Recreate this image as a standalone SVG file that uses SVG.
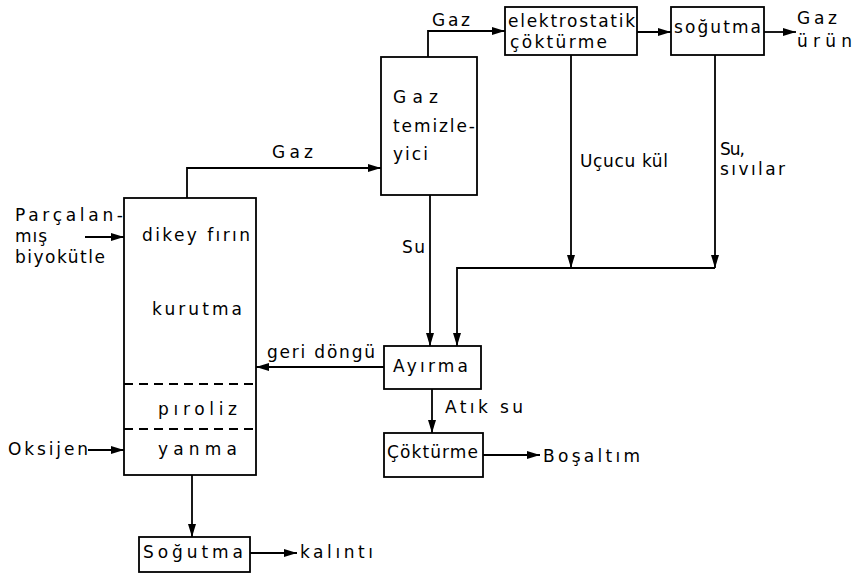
<svg xmlns="http://www.w3.org/2000/svg" width="856" height="575" viewBox="0 0 856 575">
  <defs>
    <marker id="arrow" viewBox="0 0 13 8" refX="13" refY="4" markerUnits="userSpaceOnUse" markerWidth="13" markerHeight="8" orient="auto">
      <path d="M0,0 L13,4 L0,8 Z" fill="#000"/>
    </marker>
  </defs>
  <style>
    .box { fill: none; stroke: #000; stroke-width: 1.8; }
    .dash { fill: none; stroke: #000; stroke-width: 1.8; stroke-dasharray: 9 6; }
    .line { fill: none; stroke: #000; stroke-width: 1.8; marker-end: url(#arrow); }
    text { font-family: "DejaVu Sans", "Liberation Sans", sans-serif; font-size: 17px; fill: #000; }
  </style>
  <rect width="856" height="575" fill="#fff"/>

  <!-- vertical furnace with its zones -->
  <g id="furnace">
    <rect class="box" x="124" y="198" width="132" height="277"/>
    <line class="dash" x1="124" y1="384" x2="256" y2="384"/>
    <line class="dash" x1="124" y1="429" x2="256" y2="429"/>
    <text x="142" y="241" textLength="108" lengthAdjust="spacing">dikey fırın</text>
    <text x="152" y="315" textLength="90" lengthAdjust="spacing">kurutma</text>
    <text x="158" y="415" textLength="79" lengthAdjust="spacing">pıroliz</text>
    <text x="158" y="455" textLength="79" lengthAdjust="spacing">yanma</text>
  </g>

  <g id="gas-cleaner">
    <rect class="box" x="381" y="57" width="96" height="138"/>
    <text x="393" y="103" textLength="45" lengthAdjust="spacing">Gaz</text>
    <text x="393" y="132" textLength="82" lengthAdjust="spacing">temizle-</text>
    <text x="393" y="160" textLength="35" lengthAdjust="spacing">yici</text>
  </g>

  <g id="electrostatic">
    <rect class="box" x="505" y="7" width="132" height="48"/>
    <text x="508" y="27" textLength="127" lengthAdjust="spacing">elektrostatik</text>
    <text x="510" y="48" textLength="97" lengthAdjust="spacing">çöktürme</text>
  </g>

  <g id="gas-cooling">
    <rect class="box" x="671" y="7" width="93" height="48"/>
    <text x="674" y="33" textLength="87" lengthAdjust="spacing">soğutma</text>
  </g>

  <g id="separation">
    <rect class="box" x="384" y="346" width="97" height="43"/>
    <text x="393" y="372" textLength="75" lengthAdjust="spacing">Ayırma</text>
  </g>

  <g id="settling">
    <rect class="box" x="384" y="433" width="99" height="44"/>
    <text x="387" y="458" textLength="91" lengthAdjust="spacing">Çöktürme</text>
  </g>

  <g id="residue-cooling">
    <rect class="box" x="139" y="537" width="111" height="35"/>
    <text x="143" y="558" textLength="100" lengthAdjust="spacing">Soğutma</text>
  </g>

  <!-- inputs and outputs -->
  <g id="labels">
    <text x="15" y="221" textLength="108" lengthAdjust="spacing">Parçalan-</text>
    <text x="15" y="242" textLength="32" lengthAdjust="spacing">mış</text>
    <text x="15" y="263" textLength="90" lengthAdjust="spacing">biyokütle</text>
    <text x="8" y="455" textLength="80" lengthAdjust="spacing">Oksijen</text>
    <text x="797" y="24" textLength="40" lengthAdjust="spacing">Gaz</text>
    <text x="797" y="47" textLength="55" lengthAdjust="spacing">ürün</text>
    <text x="543" y="462" textLength="97" lengthAdjust="spacing">Boşaltım</text>
    <text x="300" y="558" textLength="73" lengthAdjust="spacing">kalıntı</text>
  </g>

  <g id="connectors">
    <line class="line" x1="85" y1="237" x2="124" y2="237"/>
    <line class="line" x1="88" y1="450" x2="124" y2="450"/>
    <polyline class="line" points="187,198 187,168 381,168"/>
    <polyline class="line" points="428,57 428,31 505,31"/>
    <line class="line" x1="637" y1="32" x2="671" y2="32"/>
    <line class="line" x1="764" y1="32" x2="796" y2="32"/>
    <line class="line" x1="571" y1="55" x2="571" y2="268"/>
    <line class="line" x1="715" y1="55" x2="715" y2="268"/>
    <polyline class="line" points="715,268 457,268 457,346"/>
    <line class="line" x1="430" y1="195" x2="430" y2="346"/>
    <line class="line" x1="384" y1="367" x2="256" y2="367"/>
    <line class="line" x1="432" y1="389" x2="432" y2="433"/>
    <line class="line" x1="483" y1="455" x2="540" y2="455"/>
    <line class="line" x1="192" y1="475" x2="192" y2="537"/>
    <line class="line" x1="250" y1="553" x2="297" y2="553"/>
    <text x="272" y="158" textLength="41" lengthAdjust="spacing">Gaz</text>
    <text x="432" y="26" textLength="38" lengthAdjust="spacing">Gaz</text>
    <text x="580" y="167" textLength="88" lengthAdjust="spacing">Uçucu kül</text>
    <text x="720" y="155" textLength="25" lengthAdjust="spacing">Su,</text>
    <text x="720" y="175" textLength="65" lengthAdjust="spacing">sıvılar</text>
    <text x="402" y="253" textLength="23" lengthAdjust="spacing">Su</text>
    <text x="267" y="358" textLength="108" lengthAdjust="spacing">geri döngü</text>
    <text x="445" y="413" textLength="78" lengthAdjust="spacing">Atık su</text>
  </g>
</svg>
